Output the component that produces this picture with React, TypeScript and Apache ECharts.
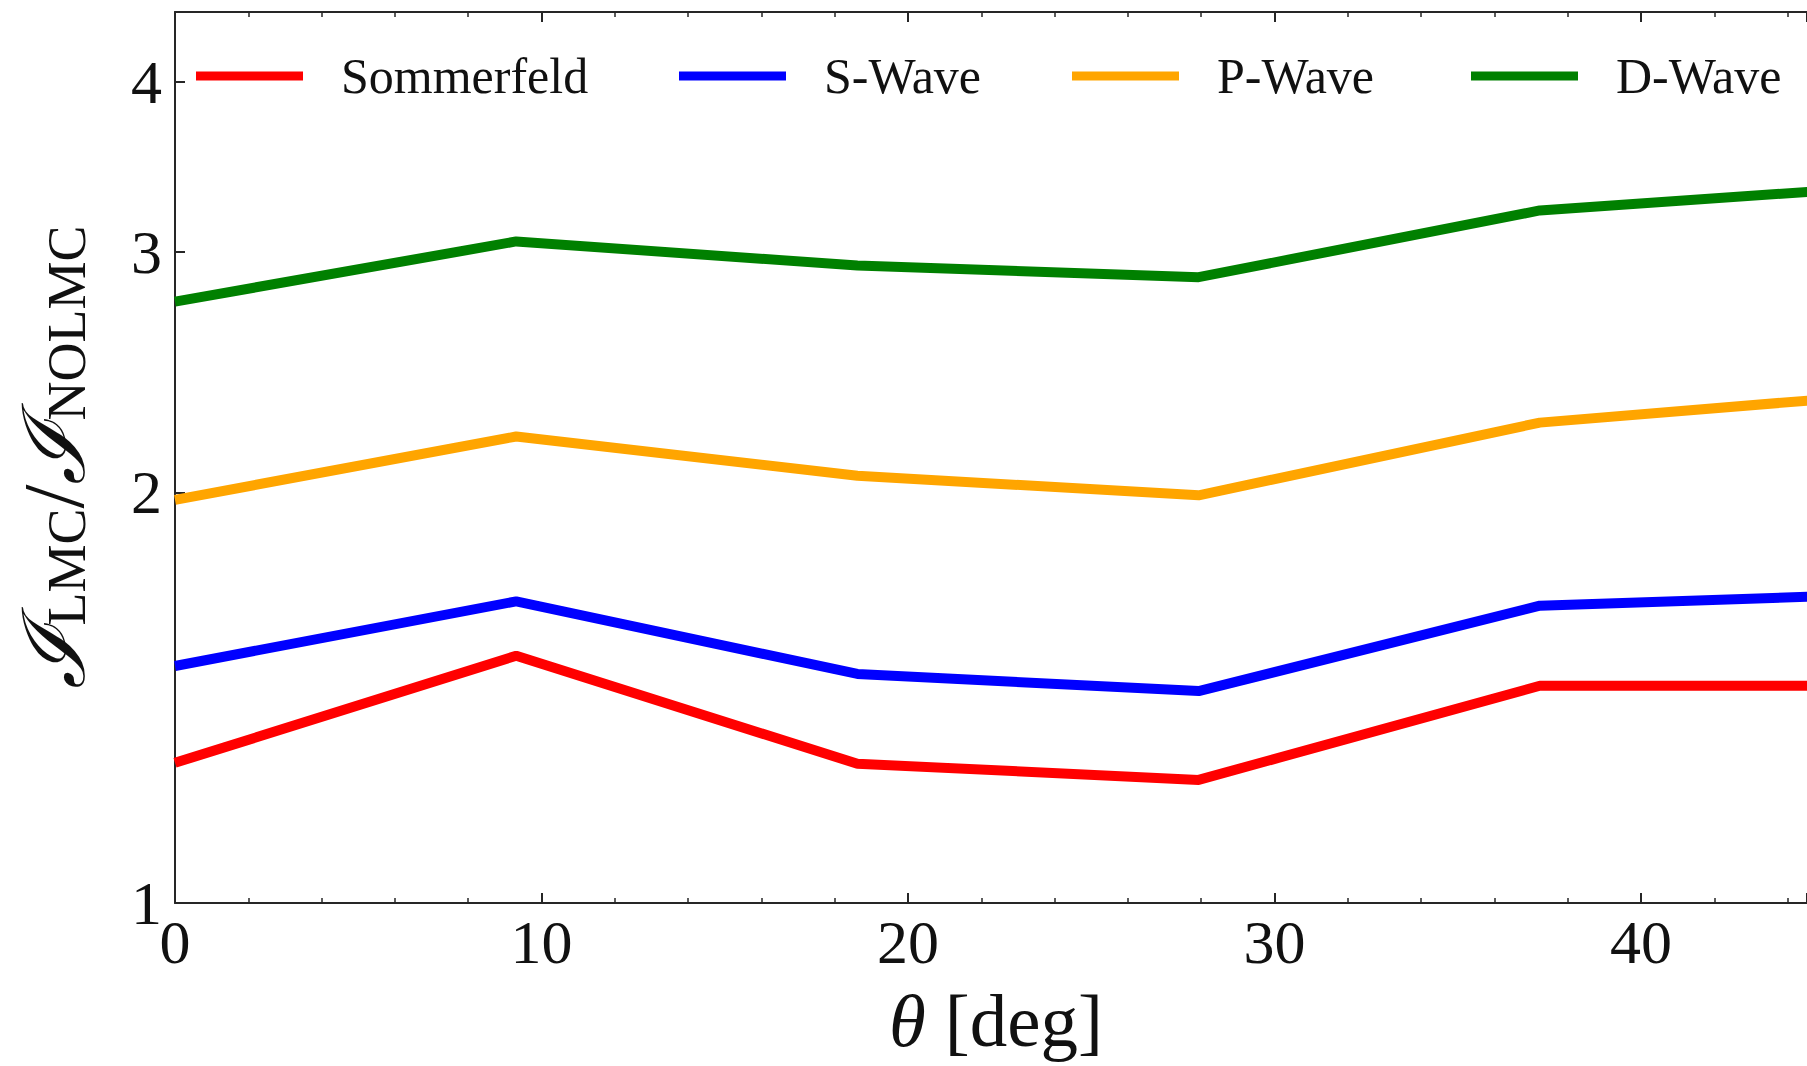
import React, { useEffect, useRef } from "react";
import * as echarts from "echarts";

const thetaDeg = [0, 9.31, 18.62, 27.93, 37.24, 46.55];
const sommerfeld = [1.267, 1.518, 1.265, 1.231, 1.443, 1.443];
const sWave = [1.492, 1.664, 1.472, 1.43, 1.652, 1.684];
const pWave = [1.975, 2.198, 2.057, 1.99, 2.25, 2.359];
const dWave = [2.76, 3.055, 2.933, 2.876, 3.219, 3.35];

const seriesNames = ["Sommerfeld", "S-Wave", "P-Wave", "D-Wave"];
const seriesColors = ["#ff0000", "#0000ff", "#ffa500", "#008000"];
const seriesValues = [sommerfeld, sWave, pWave, dWave];
const legendLefts = [196, 679, 1072, 1471];

const yTickValues = [1, 2, 3, 4];
const xMin = 0;
const xMax = 44.53;

const SERIF = "'Liberation Serif', 'DejaVu Serif', serif";

export default function App() {
  const ref = useRef<HTMLDivElement>(null);
  useEffect(() => {
    document.body.style.margin = "0";
    document.body.style.overflow = "hidden";
    const chart = echarts.init(ref.current!, null, { renderer: "svg" });
    const axisLine = { show: true, lineStyle: { color: "#262626", width: 2 } };
    const xCommon = {
      type: "value" as const,
      min: xMin,
      max: xMax,
      interval: 10,
      axisLine,
      axisTick: { show: true, inside: true, length: 10, lineStyle: { color: "#262626", width: 2 } },
      minorTick: { show: true, splitNumber: 5, length: 5, lineStyle: { color: "#262626", width: 1.5 } },
      splitLine: { show: false },
    };
    chart.setOption({
      animation: false,
      backgroundColor: "#ffffff",
      grid: { left: 175, top: 12, right: 0, bottom: 163, containLabel: false, outerBoundsMode: "none" },
      legend: seriesNames.map((n, i) => ({
        data: [n],
        left: legendLefts[i],
        top: 51,
        padding: 0,
        icon: "rect",
        itemWidth: 107,
        itemHeight: 9,
        textStyle: { fontFamily: SERIF, fontSize: 50, color: "#111", padding: [0, 0, 0, 33] },
      })),
      xAxis: [
        {
          ...xCommon,
          position: "bottom",
          name: "{t|θ} [deg]",
          nameLocation: "middle",
          nameGap: 80,
          nameTextStyle: {
            fontFamily: SERIF,
            fontSize: 75,
            color: "#111",
            padding: [0, 0, 0, 10],
            rich: { t: { fontFamily: SERIF, fontSize: 75, fontStyle: "italic", color: "#111" } },
          },
          axisLabel: { fontFamily: SERIF, fontSize: 62, color: "#111", margin: 8, showMaxLabel: false },
        },
        {
          ...xCommon,
          position: "top",
          axisLabel: { show: false },
        },
      ],
      yAxis: {
        type: "log",
        logBase: 10,
        min: 1,
        max: 4.5,
        axisLine,
        axisTick: { show: true, inside: true, length: 10, customValues: yTickValues, lineStyle: { color: "#262626", width: 2 } },
        axisLabel: { fontFamily: SERIF, fontSize: 62, color: "#111", margin: 13, customValues: yTickValues },
        splitLine: { show: false },
        minorTick: { show: false },
        name: "{i|ℐ}{s|LMC}{sl|/}{i|ℐ}{s|NOLMC}",
        nameLocation: "middle",
        nameRotate: 90,
        nameGap: 78,
        nameTextStyle: {
          color: "#111",
          rich: {
            i: { fontFamily: "'DejaVu Serif', serif", fontSize: 86, fontStyle: "italic", color: "#111" },
            sl: { fontFamily: SERIF, fontSize: 86, color: "#111" },
            s: { fontFamily: SERIF, fontSize: 54, color: "#111", padding: [26, 0, 0, 0] },
          },
        },
      },
      series: seriesNames.map((n, i) => ({
        name: n,
        type: "line",
        xAxisIndex: 0,
        showSymbol: false,
        symbol: "none",
        color: seriesColors[i],
        lineStyle: { width: 10, color: seriesColors[i] },
        data: thetaDeg.map((x, j) => [x, seriesValues[i][j]]),
      })),
    });
    return () => chart.dispose();
  }, []);
  return <div ref={ref} style={{ width: 1807, height: 1066 }} />;
}
